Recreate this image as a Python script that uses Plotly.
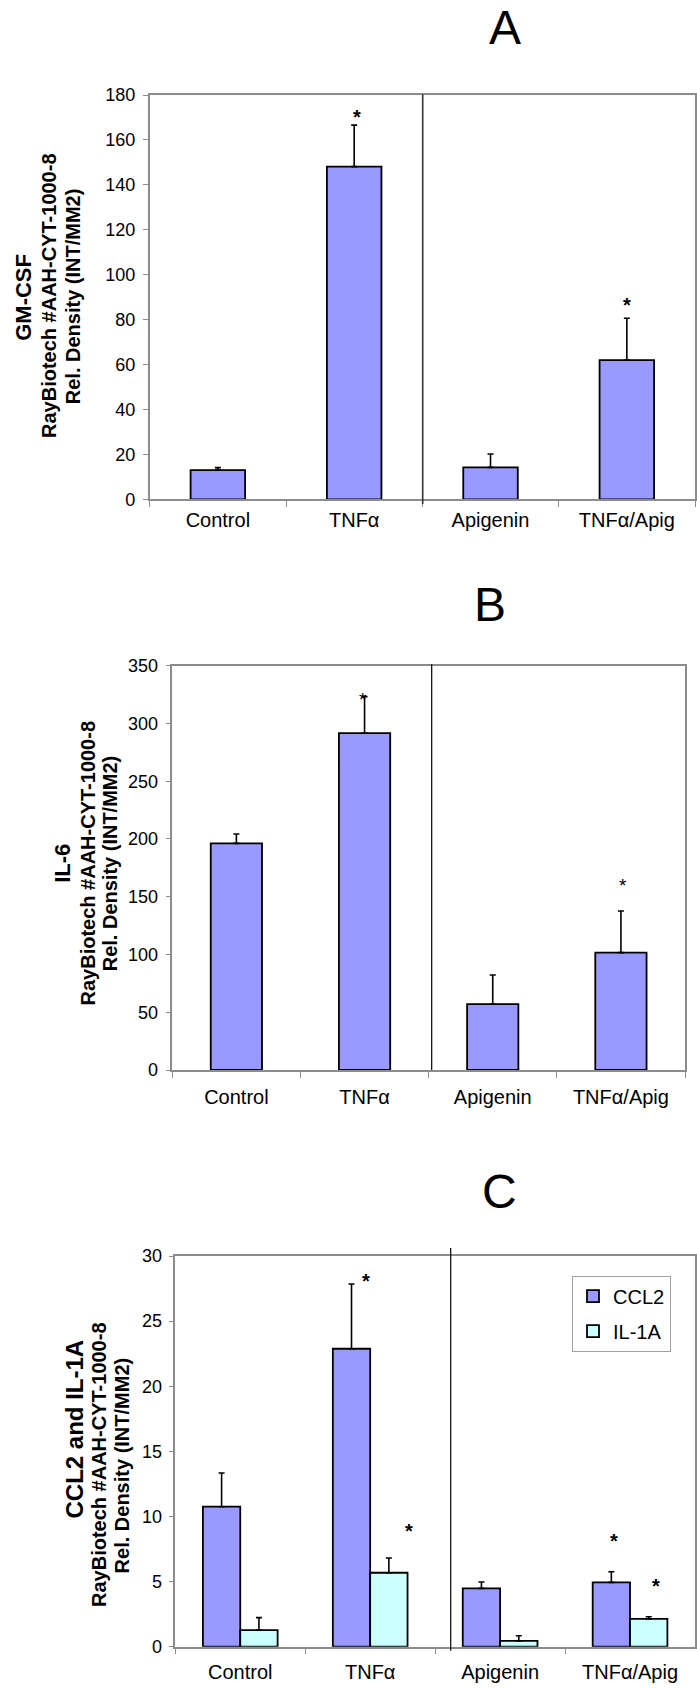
import plotly.graph_objects as go

W, H = 697, 1690

categories = ["Control", "TNFα", "Apigenin", "TNFα/Apig"]

# Panel A: GM-CSF
gmcsf_mean = [13.0, 148.1, 14.2, 62.0]
gmcsf_err = [1.1, 18.5, 6.0, 18.6]

# Panel B: IL-6
il6_mean = [196.2, 291.7, 57.1, 101.6]
il6_err = [8.1, 31.5, 25.1, 36.0]

# Panel C: CCL2 and IL-1A
ccl2_mean = [10.75, 22.88, 4.48, 4.94]
ccl2_err = [2.59, 4.97, 0.49, 0.82]
il1a_mean = [1.28, 5.68, 0.44, 2.13]
il1a_err = [0.95, 1.13, 0.40, 0.17]

# significance stars (category index position, value)
stars_a = [(1.02, 172.0), (3.0, 88.4)]
stars_b = [(0.99, 324.6), (3.02, 163.0)]
stars_c = [(0.965, 28.41), (1.296, 9.21), (2.876, 8.40), (3.199, 4.99)]

BLUE = "#9999FF"
CYAN = "#CCFFFF"
GRID = "#8c8c8c"
FONT = "Liberation Sans, Arial, sans-serif"


def px(x):
    return x / W


def py(y):
    return 1 - y / H


fig = go.Figure()

err_style = dict(type="data", symmetric=False, color="black", thickness=1.6, width=3)
line_style = dict(color="black", width=1.8)

fig.add_trace(go.Bar(x=categories, y=gmcsf_mean, width=0.4, marker=dict(color=BLUE, line=line_style),
                     error_y=dict(array=gmcsf_err, arrayminus=[0] * 4, **err_style),
                     xaxis="x", yaxis="y", showlegend=False))
fig.add_trace(go.Bar(x=categories, y=il6_mean, width=0.4, marker=dict(color=BLUE, line=line_style),
                     error_y=dict(array=il6_err, arrayminus=[0] * 4, **err_style),
                     xaxis="x2", yaxis="y2", showlegend=False))
fig.add_trace(go.Bar(x=categories, y=ccl2_mean, name="CCL2", width=0.2875, offset=-0.2875,
                     marker=dict(color=BLUE, line=line_style),
                     error_y=dict(array=ccl2_err, arrayminus=[0] * 4, **err_style),
                     xaxis="x3", yaxis="y3", legendgroup="a"))
fig.add_trace(go.Bar(x=categories, y=il1a_mean, name="IL-1A", width=0.2875, offset=0,
                     marker=dict(color=CYAN, line=line_style),
                     error_y=dict(array=il1a_err, arrayminus=[0] * 4, **err_style),
                     xaxis="x3", yaxis="y3", legendgroup="b"))

panels = [
    dict(x0=149.7, x1=695.0, y0=95.0, y1=499.3, rng=[0, 180], dt=20, xs=2, ys=4),
    dict(x0=172.3, x1=685.0, y0=665.7, y1=1070.0, rng=[0, 350], dt=50, xs=8, ys=4),
    dict(x0=175.3, x1=695.0, y0=1256.0, y1=1646.7, rng=[0, 30], dt=5, xs=7, ys=3),
]

for i, p in enumerate(panels):
    sfx = "" if i == 0 else str(i + 1)
    fig.update_layout(**{
        "xaxis" + sfx: dict(
            domain=[px(p["x0"]), px(p["x1"])], anchor="y" + sfx, automargin=False,
            type="category", categoryorder="array", categoryarray=categories,
            range=[-0.5, 3.5], showline=True, linecolor=GRID, linewidth=1.5, mirror=True,
            ticks="outside", tickson="boundaries", ticklen=6, tickcolor=GRID, tickwidth=1,
            tickfont=dict(family=FONT, size=20, color="black"), ticklabelstandoff=p["xs"],
            showgrid=False, zeroline=False, fixedrange=True),
        "yaxis" + sfx: dict(
            domain=[py(p["y1"]), py(p["y0"])], anchor="x" + sfx, automargin=False,
            range=p["rng"], dtick=p["dt"], tick0=0, showline=True, linecolor=GRID, linewidth=1.5,
            mirror=True, ticks="outside", ticklen=5, tickcolor=GRID, tickwidth=1,
            tickfont=dict(family=FONT, size=18, color="black"), ticklabelstandoff=p["ys"],
            showgrid=False, zeroline=False, fixedrange=True),
    })

annotations = []
# panel letters
for txt, x, y in [("A", 505, 27.5), ("B", 489.7, 604.7), ("C", 499, 1191.5)]:
    annotations.append(dict(text=txt, x=px(x), y=py(y), xref="paper", yref="paper",
                            xanchor="center", yanchor="middle", showarrow=False,
                            font=dict(family=FONT, size=48, color="black")))

# y axis titles, three lines each
ytitles = [
    [("GM-CSF", 23.3, 297.5, 22), ("RayBiotech #AAH-CYT-1000-8", 49, 296, 20),
     ("Rel. Density (INT/MM2)", 72.5, 296.7, 20)],
    [("IL-6", 62.5, 863.3, 22), ("RayBiotech #AAH-CYT-1000-8", 87.5, 863, 20),
     ("Rel. Density (INT/MM2)", 110, 863.3, 20)],
    [("CCL2 and IL-1A", 73.5, 1429, 24), ("RayBiotech #AAH-CYT-1000-8", 99, 1465, 20),
     ("Rel. Density (INT/MM2)", 121.7, 1465.7, 20)],
]
for panel in ytitles:
    for txt, x, y, s in panel:
        annotations.append(dict(text="<b>" + txt + "</b>", x=px(x), y=py(y), xref="paper", yref="paper",
                                xanchor="center", yanchor="middle", textangle=-90, showarrow=False,
                                font=dict(family=FONT, size=s, color="black")))

# stars
for (sx, sy) in stars_a:
    annotations.append(dict(text="<b>*</b>", x=sx, y=sy, xref="x", yref="y", showarrow=False,
                            xanchor="center", yanchor="middle", yshift=-4,
                            font=dict(family=FONT, size=20, color="black")))
for (sx, sy) in stars_b:
    annotations.append(dict(text="*", x=sx, y=sy, xref="x2", yref="y2", showarrow=False,
                            xanchor="center", yanchor="middle", yshift=-4,
                            font=dict(family=FONT, size=19, color="black")))
for (sx, sy) in stars_c:
    annotations.append(dict(text="<b>*</b>", x=sx, y=sy, xref="x3", yref="y3", showarrow=False,
                            xanchor="center", yanchor="middle", yshift=-4,
                            font=dict(family=FONT, size=20, color="black")))

shapes = [
    dict(type="line", xref="paper", yref="paper", x0=px(422.7), x1=px(422.7), y0=py(94.3), y1=py(504),
         line=dict(color="#333333", width=1.6)),
    dict(type="line", xref="paper", yref="paper", x0=px(431.7), x1=px(431.7), y0=py(664.3), y1=py(1070),
         line=dict(color="black", width=1.2)),
    dict(type="line", xref="paper", yref="paper", x0=px(450.7), x1=px(450.7), y0=py(1248), y1=py(1650.7),
         line=dict(color="black", width=1.2)),
]

fig.update_layout(
    width=W, height=H, margin=dict(l=0, r=0, t=0, b=0, autoexpand=False),
    paper_bgcolor="white", plot_bgcolor="white", barmode="overlay",
    annotations=annotations, shapes=shapes,
    legend=dict(x=px(572), y=py(1275.7), xanchor="left", yanchor="top",
                bordercolor="#a0a0a0", borderwidth=1, bgcolor="white",
                font=dict(family=FONT, size=20, color="black"),
                traceorder="grouped", tracegroupgap=6),
    font=dict(family=FONT, color="black"),
)

fig.write_html(
    "out.html",
    config={"displayModeBar": False},
    post_script="document.body.style.margin='0px';document.body.style.padding='0px';",
)
